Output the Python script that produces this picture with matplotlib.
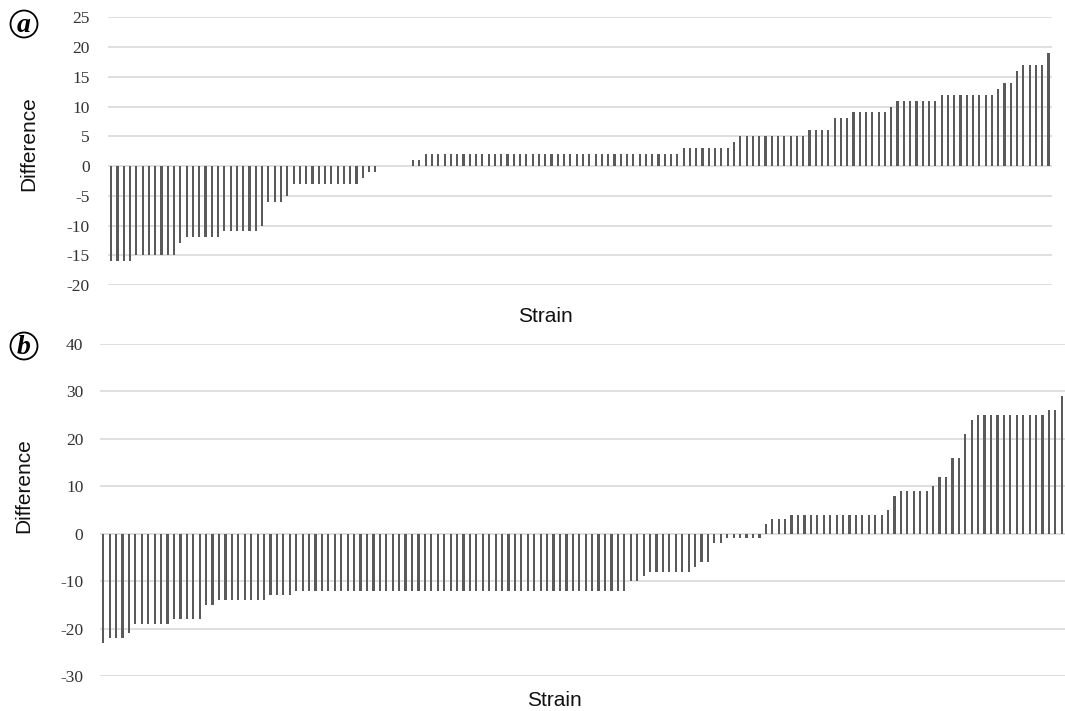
import matplotlib
matplotlib.use("Agg")
import matplotlib.pyplot as plt
from matplotlib.patches import Ellipse

# Sorted per-strain differences, panel (a)
diff_a = [
    -16, -16, -16, -16, -15, -15, -15, -15, -15, -15, -15, -13,
    -12, -12, -12, -12, -12, -12, -11, -11, -11, -11, -11, -11, -10,
    -6, -6, -6, -5, -3, -3, -3, -3, -3, -3, -3, -3, -3, -3, -3, -2, -1, -1,
    0, 0, 0, 0, 0,
    1, 1,
    2, 2, 2, 2, 2, 2, 2, 2, 2, 2,
    2, 2, 2, 2, 2, 2, 2, 2, 2, 2,
    2, 2, 2, 2, 2, 2, 2, 2, 2, 2,
    2, 2, 2, 2, 2, 2, 2, 2, 2, 2, 2,
    3, 3, 3, 3, 3, 3, 3, 3,
    4, 5, 5, 5, 5, 5, 5, 5, 5, 5, 5, 5,
    6, 6, 6, 6, 8, 8, 8, 9, 9, 9, 9, 9, 9, 10,
    11, 11, 11, 11, 11, 11, 11,
    12, 12, 12, 12, 12, 12, 12, 12, 12,
    13, 14, 14, 16, 17, 17, 17, 17, 19,
]

# Sorted per-strain differences, panel (b)
diff_b = [
    -23, -22, -22, -22, -21, -19, -19, -19, -19, -19, -19,
    -18, -18, -18, -18, -18, -15, -15,
    -14, -14, -14, -14, -14, -14, -14, -14, -13, -13, -13, -13,
    -12, -12, -12, -12, -12, -12, -12, -12, -12, -12,
    -12, -12, -12, -12, -12, -12, -12, -12, -12, -12,
    -12, -12, -12, -12, -12, -12, -12, -12, -12, -12,
    -12, -12, -12, -12, -12, -12, -12, -12, -12, -12,
    -12, -12, -12, -12, -12, -12, -12, -12, -12, -12,
    -12, -12,
    -10, -10, -9, -8, -8, -8, -8, -8, -8, -8, -7, -6, -6,
    -2, -2, -1, -1, -1, -1, -1, -1,
    2, 3, 3, 3,
    4, 4, 4, 4, 4, 4, 4, 4, 4, 4, 4, 4, 4, 4, 4,
    5, 8, 9, 9, 9, 9, 9, 10, 12, 12, 16, 16, 21, 24,
    25, 25, 25, 25, 25, 25, 25, 25, 25, 25, 25,
    26, 26, 29,
]

ticks_a = [-20, -15, -10, -5, 0, 5, 10, 15, 20, 25]
ticks_b = [-30, -20, -10, 0, 10, 20, 30, 40]

plt.rcParams["axes.unicode_minus"] = False

W, H = 1065, 711
fig = plt.figure(figsize=(W / 100, H / 100), dpi=100)

bar_color = "#5a5a5a"
grid_color = "#d9d9d9"
tick_font = dict(family="Liberation Serif", size=12.5)


def style_axes(ax, values, ticks, pad):
    ax.bar(range(len(values)), values, width=0.34, color=bar_color, zorder=3)
    ax.set_xlim(-0.5, len(values) - 0.5)
    ax.set_ylim(ticks[0], ticks[-1])
    ax.set_yticks(ticks)
    ax.set_yticklabels([str(t) for t in ticks], fontdict=tick_font, color="#333333")
    ax.set_xticks([])
    ax.tick_params(axis="y", length=0, pad=pad)
    for s in ax.spines.values():
        s.set_visible(False)
    ax.grid(axis="y", color=grid_color, linewidth=1.2, zorder=0)
    ax.set_axisbelow(True)


# panel (a)
ax_a = fig.add_axes([108 / W, 1 - 285 / H, (1051.7 - 108) / W, (285 - 17.3) / H])
style_axes(ax_a, diff_a, ticks_a, 13)

# panel (b)
ax_b = fig.add_axes([100 / W, 1 - 676 / H, (W - 100) / W, (676 - 344) / H])
style_axes(ax_b, diff_b, ticks_b, 12)

label_font = dict(family="Liberation Sans", size=15, color="#111111")
fig.text(29 / W, 1 - 144 / H, "Difference", rotation=90, ha="center", va="center", **label_font)
fig.text(24 / W, 1 - 486 / H, "Difference", rotation=90, ha="center", va="center", **label_font)
fig.text(545 / W, 1 - 317 / H, "Strain", ha="center", va="center", **label_font)
fig.text(554 / W, 1 - 700 / H, "Strain", ha="center", va="center", **label_font)

# circled panel letters
for letter, cx, cy in [("a", 24, 24), ("b", 24, 346)]:
    fig.add_artist(Ellipse((cx / W, 1 - cy / H), 27 / W, 27 / H,
                           transform=fig.transFigure, fill=False,
                           edgecolor="black", linewidth=1.3))
    fig.text(cx / W, 1 - (cy + 1) / H, letter, ha="center", va="center",
             family="Liberation Serif", fontweight="bold", fontstyle="italic",
             size=20, color="black")

fig.savefig("out.png", dpi=100)
